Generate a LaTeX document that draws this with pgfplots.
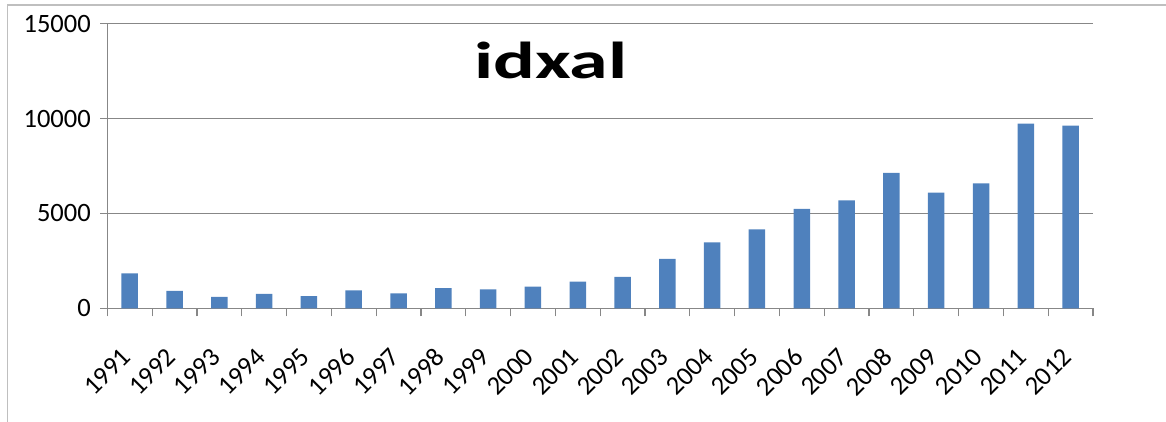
\documentclass[border=0pt]{standalone}
\usepackage{fontspec}
\setmainfont{Carlito}
\usepackage{graphicx}
\usepackage{pgfplots}
\pgfplotsset{compat=1.18}
\definecolor{barblue}{HTML}{4F81BD}
\definecolor{gridgray}{HTML}{878787}
\definecolor{framegray}{HTML}{BFBFBF}
\begin{document}
\begin{tikzpicture}[x=1pt,y=1pt]
\path[use as bounding box] (0,0) rectangle (1166,421);
\draw[framegray, line width=1.5pt] (7.5,-5) -- (7.5,416) -- (1175,416);
\begin{axis}[
  at={(107.3pt,112.7pt)}, anchor=south west,
  width=985.7pt, height=284.6pt, scale only axis,
  xmin=-0.5, xmax=21.5, ymin=0, ymax=15000,
  axis x line*=bottom, axis y line*=left,
  axis line style={gridgray, line width=1.2pt},
  ytick={0,5000,10000,15000},
  yticklabels={0,5000,10000,15000},
  scaled y ticks=false,
  ymajorgrids, grid style={gridgray, line width=1.2pt},
  xtick={0,...,21},
  xticklabels={1991,1992,1993,1994,1995,1996,1997,1998,1999,2000,2001,2002,2003,2004,2005,2006,2007,2008,2009,2010,2011,2012},
  minor xtick={-0.5,0.5,...,21.5},
  major x tick style={draw=none},
  minor x tick style={gridgray, line width=1.2pt},
  y tick style={gridgray, line width=1.2pt},
  tick align=outside,
  major tick length=7pt, minor tick length=8pt,
  tick label style={font=\fontsize{26.5}{30}\selectfont},
  /pgf/number format/assume math mode=true,
  xticklabel style={xshift=-1pt, yshift=-35pt, rotate=45, anchor=east},
  yticklabel style={xshift=-6pt},
  clip=false,
]
\addplot[ybar, bar width=16.5pt, fill=barblue, draw=none] coordinates {
(0,1845) (1,912) (2,596) (3,754) (4,648) (5,949) (6,790) (7,1070) (8,1000) (9,1140)
(10,1400) (11,1650) (12,2600) (13,3480) (14,4165) (15,5235) (16,5693) (17,7133)
(18,6095) (19,6590) (20,9732) (21,9626)
};
\node[font=\fontsize{52}{62}\selectfont\bfseries] at (rel axis cs:0.45,0.872) {\scalebox{1.5}[1]{idxal}};
\end{axis}
\end{tikzpicture}
\end{document}
